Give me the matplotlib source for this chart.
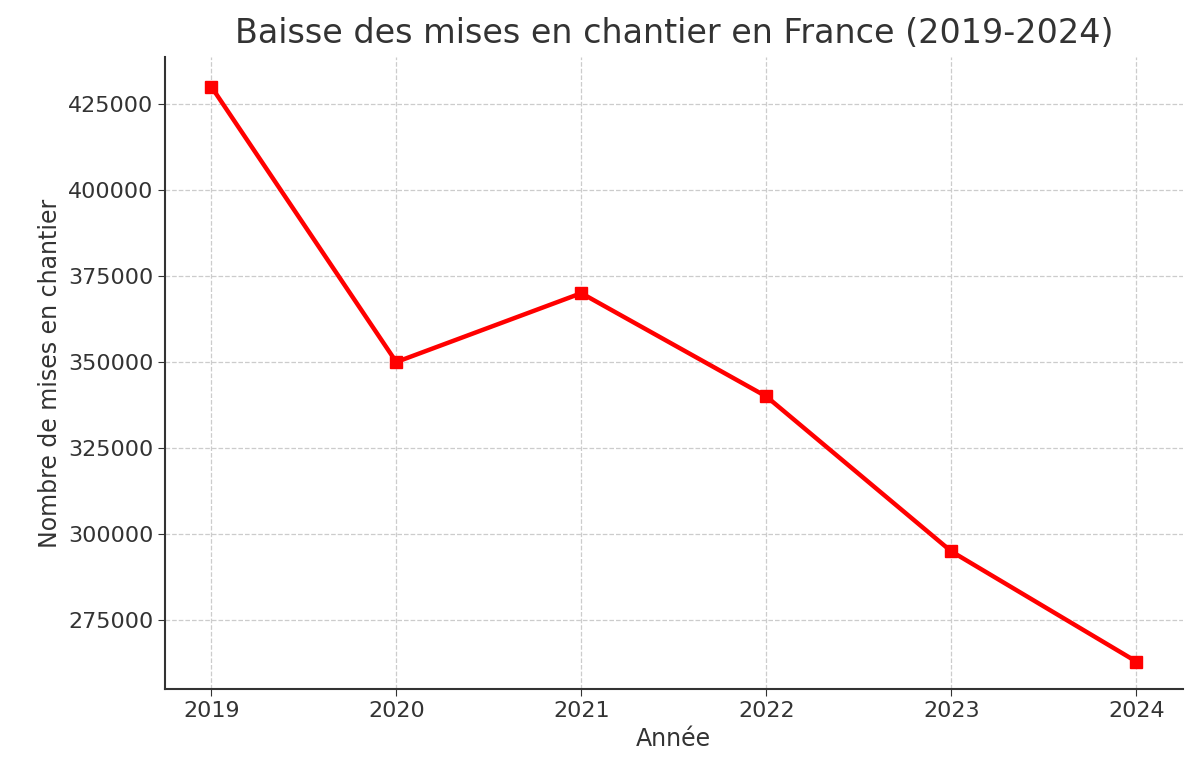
import matplotlib
matplotlib.use("Agg")
import matplotlib.pyplot as plt

years = [2019, 2020, 2021, 2022, 2023, 2024]
starts = [430000, 350000, 370000, 340000, 295000, 263000]
yticks = [275000, 300000, 325000, 350000, 375000, 400000, 425000]

fig = plt.figure(figsize=(12, 7.78), dpi=100)
ax = fig.add_axes([0.1375, 0.114, 0.848, 0.813])
ax.plot(years, starts, color='red', linewidth=3.2, marker='s', markersize=8)
ax.set_xticks(years)
ax.set_yticks(yticks)
ax.set_ylim(254940, 438660)
ax.grid(True, linestyle='--', color='#cccccc', linewidth=0.9)
for s in ['top', 'right']:
    ax.spines[s].set_visible(False)
for s in ['left', 'bottom']:
    ax.spines[s].set_color('#333333')
    ax.spines[s].set_linewidth(1.5)
ax.tick_params(labelsize=16, colors='#333333', length=5)
ax.set_title('Baisse des mises en chantier en France (2019-2024)', fontsize=24, color='#333333', pad=10)
ax.set_xlabel('Année', fontsize=17, color='#333333')
ax.set_ylabel('Nombre de mises en chantier', fontsize=17, color='#333333')
fig.savefig('out.png', dpi=100)
